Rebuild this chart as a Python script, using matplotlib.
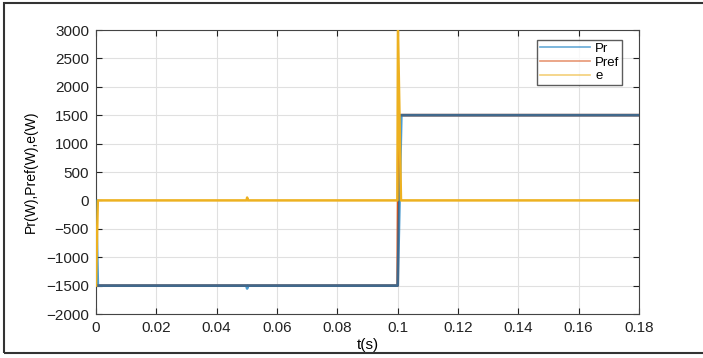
import matplotlib.pyplot as plt
from matplotlib.patches import Rectangle

# ----------------------------
# Data
# ----------------------------
t_pr = [0, 0.0006, 0.0499, 0.0501, 0.0504, 0.1, 0.1012, 0.18]
pr = [0, -1500, -1500, -1550, -1500, -1500, 1500, 1500]

t_pref = [0, 0.1, 0.1003, 0.18]
pref = [-1500, -1500, 1500, 1500]

t_e = [0, 0.0006, 0.0499, 0.0501, 0.0504, 0.0999, 0.1001, 0.1011, 0.18]
e = [-1500, 0, 0, 50, 0, 0, 3000, 0, 0]

xticks = [0, 0.02, 0.04, 0.06, 0.08, 0.1, 0.12, 0.14, 0.16, 0.18]
xticklabels = ["0", "0.02", "0.04", "0.06", "0.08", "0.1", "0.12", "0.14", "0.16", "0.18"]
yticks = list(range(-2000, 3001, 500))

plt.rcParams["font.family"] = ["Liberation Sans", "DejaVu Sans"]

fig = plt.figure(figsize=(7.03, 3.58), dpi=100)
ax = fig.add_axes([96 / 703, 1 - 314 / 358, (639 - 96) / 703, (314 - 30) / 358])

# frame around the whole figure
fig.patches.append(Rectangle((4 / 703, 5 / 358), 1.0, 350 / 358, transform=fig.transFigure,
                             fill=False, edgecolor="#333333", linewidth=1.5))

ax.plot(t_pref, pref, color="#D95319", linewidth=2, label="Pref", zorder=2)
ax.plot(t_pr, pr, color="#0072BD", alpha=0.7, linewidth=2, label="Pr", zorder=3)
ax.plot(t_e, e, color="#EDB120", linewidth=1.8, label="e", zorder=4)

ax.set_xlim(0, 0.18)
ax.set_ylim(-2000, 3000)
ax.set_xticks(xticks)
ax.set_xticklabels(xticklabels)
ax.set_yticks(yticks)
ax.grid(True, color="#e0e0e0", linewidth=0.8)
ax.set_axisbelow(True)
ax.tick_params(direction="in", length=4, labelsize=11, pad=5, colors="#222222", top=True, right=True)
for s in ax.spines.values():
    s.set_color("#444444")
    s.set_linewidth(0.8)

ax.set_xlabel("t(s)", fontsize=11, labelpad=2)
ax.set_ylabel("Pr(W),Pref(W),e(W)", fontsize=10, labelpad=6)

h, l = ax.get_legend_handles_labels()
order = [1, 0, 2]
leg = ax.legend([h[i] for i in order], [l[i] for i in order], loc="upper right",
                bbox_to_anchor=(0.969, 0.965), fancybox=False, edgecolor="#333333",
                fontsize=9.5, handlelength=3.8, handletextpad=0.4, borderpad=0.2,
                labelspacing=0.12, borderaxespad=0)
leg.get_frame().set_linewidth(1.0)
for ln in leg.get_lines():
    ln.set_linewidth(1.2)
    ln.set_alpha(0.6)

fig.savefig("out.png", dpi=100)
plt.close(fig)
